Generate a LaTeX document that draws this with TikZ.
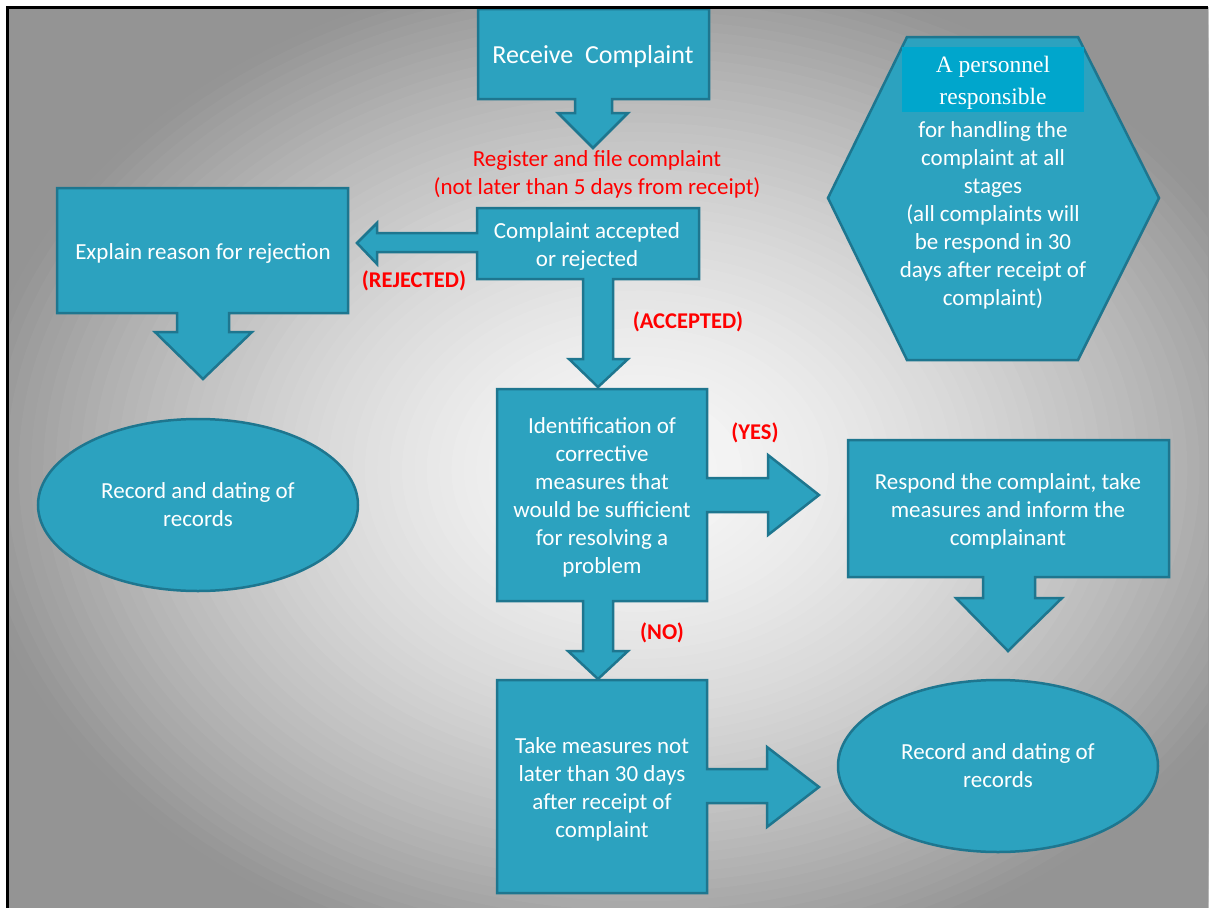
\documentclass[tikz,border=0pt]{standalone}
\usepackage{fontspec}
\setmainfont{Carlito}
\newfontfamily\serifA{Liberation Serif}
\usetikzlibrary{shapes.geometric}
\definecolor{boxfill}{RGB}{44,162,191}
\definecolor{boxline}{RGB}{30,118,143}
\definecolor{lightbar}{RGB}{0,166,204}
\definecolor{redtext}{RGB}{255,0,0}
\tikzset{
  callout/.style={fill=boxfill, draw=boxline, line width=2.5pt, line join=miter},
  boxtext/.style={text=white, font=\fontsize{23}{28}\selectfont, align=center, inner sep=0pt},
  redlabel/.style={text=redtext, font=\fontsize{23}{28}\selectfont, align=center, inner sep=0pt},
  redbold/.style={text=redtext, font=\bfseries\fontsize{22.5}{28}\selectfont, inner sep=0pt},
  recordshape/.style={ellipse, fill=boxfill, draw=boxline, line width=2.5pt, minimum width=320pt, minimum height=172pt, inner sep=0pt, text=white, font=\fontsize{23}{28}\selectfont, align=center},
}
\begin{document}
\begin{tikzpicture}[x=1pt,y=-1pt]
\useasboundingbox (0,0) rectangle (1211,908);
\fill[white] (0,0) rectangle (1211,908);
% radial grey background built from concentric ellipses
\begin{scope}
\clip (7,7) rectangle (1208,908);
\foreach \i in {0,...,72}{
  \pgfmathsetmacro\r{1.46*(1-\i/72)+0.005}
  \pgfmathsetmacro\p{min(42,3+33*(\r)^1.6)}
  \fill[black!\p!white] (640,470) ellipse [x radius=610*\r, y radius=460*\r];
}
\end{scope}

% Receive complaint (down arrow callout)
\draw[callout] (478,9) -- (709,9) -- (709,99) -- (612,99) -- (612,113) -- (628,113) -- (593,148) -- (558,113) -- (575,113) -- (575,99) -- (478,99) -- cycle;
\node[boxtext, font=\fontsize{26}{30}\selectfont] (receive) at (593,57) {Receive\hspace{0.45em}Complaint};

% register label
\node[redlabel] (register) at (597,174) {Register and file complaint\\(not later than 5 days from receipt)};

% Complaint accepted or rejected (left + down arrow)
\draw[callout] (477,208) -- (699,208) -- (699,279) -- (613,279) -- (613,359) -- (628,359) -- (598,387) -- (569,359) -- (583,359) -- (583,279) -- (477,279) -- (477,252) -- (377,252) -- (377,264) -- (357,243) -- (377,223) -- (377,233) -- (477,233) -- cycle;
\node[boxtext] (accept) at (587,246) {Complaint accepted\\or rejected};
\node[redbold] (rejected) at (414,281) {(REJECTED)};
\node[redbold] (accepted) at (688,322) {(ACCEPTED)};

% Explain reason (down arrow)
\draw[callout] (57,188) -- (348,188) -- (348,313) -- (229,313) -- (229,332) -- (252,332) -- (203,379) -- (155,332) -- (177,332) -- (177,313) -- (57,313) -- cycle;
\node[boxtext] (explain) at (203,253) {Explain reason for rejection};

% Record left
\node[recordshape] (recordL) at (198,505) {Record and dating of\\records};

% Identification (right + down arrow)
\draw[callout] (497,389) -- (707,389) -- (707,478) -- (768,478) -- (768,455) -- (819,495) -- (768,535) -- (768,512) -- (707,512) -- (707,601) -- (613,601) -- (613,651) -- (628,651) -- (598,679) -- (568,651) -- (583,651) -- (583,601) -- (497,601) -- cycle;
\node[boxtext] (ident) at (602,497) {Identification of\\corrective\\measures that\\would be sufficient\\for resolving a\\problem};
\node[redbold] (yes) at (755,433) {(YES)};
\node[redbold] (no) at (662,633) {(NO)};

% Respond (down arrow)
\draw[callout] (848,440) -- (1169,440) -- (1169,577) -- (1035,577) -- (1035,598) -- (1062,598) -- (1008,651) -- (956,598) -- (983,598) -- (983,577) -- (848,577) -- cycle;
\node[boxtext] (respond) at (1008,511) {Respond the complaint, take\\measures and inform the\\complainant};

% Take measures (right arrow)
\draw[callout] (497,680) -- (707,680) -- (707,769) -- (767,769) -- (767,747) -- (819,787) -- (767,827) -- (767,803) -- (707,803) -- (707,893) -- (497,893) -- cycle;
\node[boxtext] (take) at (602,789) {Take measures not\\later than 30 days\\after receipt of\\complaint};

% Record right
\node[recordshape] (recordR) at (998,766) {Record and dating of\\records};

% Hexagon
\draw[callout] (907,37) -- (1078,37) -- (1159,198) -- (1078,360) -- (907,360) -- (828,198) -- cycle;
\fill[lightbar] (902,47) rectangle (1084,112);
\node[text=white, font=\serifA\fontsize{23.5}{32}\selectfont, align=center, inner sep=0pt] (personnel) at (993,83) {A personnel\\responsible};
\node[boxtext] (handling) at (993,215) {for handling the\\complaint at all\\stages\\(all complaints will\\be respond in 30\\days after receipt of\\complaint)};

% slide frame
\draw[black, line width=3pt] (7,908) -- (7,7) -- (1208,7);
\end{tikzpicture}
\end{document}
